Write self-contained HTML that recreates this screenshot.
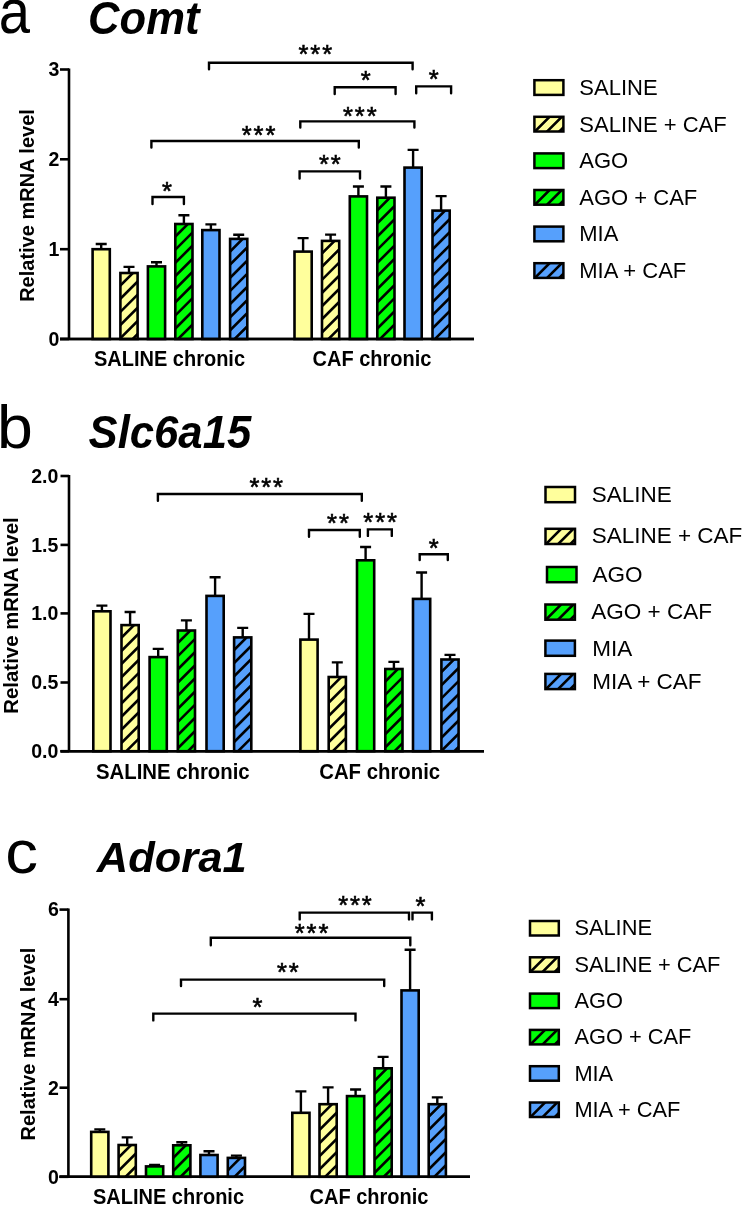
<!DOCTYPE html><html><head><meta charset="utf-8"><title>Figure</title><style>html,body{margin:0;padding:0;background:#fff;}body{width:742px;height:1205px;overflow:hidden;}svg{display:block;will-change:transform;font-family:"Liberation Sans", sans-serif;}</style></head><body><svg width="742" height="1205" viewBox="0 0 742 1205" font-family='"Liberation Sans", sans-serif' fill="#000"><defs><clipPath id="c1"><rect x="120.40" y="273.00" width="17.20" height="66.00"/></clipPath><clipPath id="c2"><rect x="175.30" y="224.00" width="17.20" height="115.00"/></clipPath><clipPath id="c3"><rect x="230.10" y="238.90" width="17.20" height="100.10"/></clipPath><clipPath id="c4"><rect x="322.00" y="240.90" width="17.20" height="98.10"/></clipPath><clipPath id="c5"><rect x="377.30" y="197.70" width="17.20" height="141.30"/></clipPath><clipPath id="c6"><rect x="432.50" y="210.60" width="17.20" height="128.40"/></clipPath><clipPath id="c7"><rect x="534.40" y="116.80" width="29.00" height="14.70"/></clipPath><clipPath id="c8"><rect x="534.40" y="190.00" width="29.00" height="14.70"/></clipPath><clipPath id="c9"><rect x="534.40" y="263.20" width="29.00" height="14.70"/></clipPath><clipPath id="c10"><rect x="121.50" y="625.10" width="17.20" height="126.10"/></clipPath><clipPath id="c11"><rect x="177.80" y="630.50" width="17.20" height="120.70"/></clipPath><clipPath id="c12"><rect x="234.10" y="637.40" width="17.20" height="113.80"/></clipPath><clipPath id="c13"><rect x="328.70" y="677.00" width="17.20" height="74.20"/></clipPath><clipPath id="c14"><rect x="385.30" y="669.00" width="17.20" height="82.20"/></clipPath><clipPath id="c15"><rect x="441.40" y="659.50" width="17.20" height="91.70"/></clipPath><clipPath id="c16"><rect x="545.50" y="528.80" width="29.50" height="15.20"/></clipPath><clipPath id="c17"><rect x="545.40" y="604.50" width="29.50" height="15.20"/></clipPath><clipPath id="c18"><rect x="545.40" y="673.90" width="29.50" height="15.20"/></clipPath><clipPath id="c19"><rect x="118.60" y="1145.00" width="17.20" height="31.80"/></clipPath><clipPath id="c20"><rect x="173.20" y="1145.30" width="17.20" height="31.50"/></clipPath><clipPath id="c21"><rect x="227.80" y="1157.90" width="17.20" height="18.90"/></clipPath><clipPath id="c22"><rect x="319.50" y="1104.20" width="17.20" height="72.60"/></clipPath><clipPath id="c23"><rect x="374.50" y="1068.30" width="17.20" height="108.50"/></clipPath><clipPath id="c24"><rect x="428.70" y="1104.20" width="17.20" height="72.60"/></clipPath><clipPath id="c25"><rect x="530.00" y="957.30" width="28.80" height="14.50"/></clipPath><clipPath id="c26"><rect x="530.00" y="1029.90" width="28.80" height="14.50"/></clipPath><clipPath id="c27"><rect x="530.00" y="1102.50" width="28.80" height="14.50"/></clipPath></defs><rect width="742" height="1205" fill="#fff"/><path d="M69.00 68.50V339.00" stroke="#000" stroke-width="2.6" fill="none"/><path d="M60.00 339.00H474.00" stroke="#000" stroke-width="2.6" fill="none"/><path d="M60.00 69.50H69.00" stroke="#000" stroke-width="2.6" fill="none"/><text transform="translate(59.30,76.30) scale(0.94,1)" font-size="20.8" font-weight="bold" text-anchor="end">3</text><path d="M60.00 159.30H69.00" stroke="#000" stroke-width="2.6" fill="none"/><text transform="translate(59.30,166.10) scale(0.94,1)" font-size="20.8" font-weight="bold" text-anchor="end">2</text><path d="M60.00 249.20H69.00" stroke="#000" stroke-width="2.6" fill="none"/><text transform="translate(59.30,256.00) scale(0.94,1)" font-size="20.8" font-weight="bold" text-anchor="end">1</text><path d="M60.00 339.00H69.00" stroke="#000" stroke-width="2.6" fill="none"/><text transform="translate(59.30,345.80) scale(0.94,1)" font-size="20.8" font-weight="bold" text-anchor="end">0</text><text transform="translate(34.38,205.50) rotate(-90)" font-size="20" font-weight="bold" text-anchor="middle">Relative mRNA level</text><path d="M101.20 248.90V244.00M95.70 244.00H106.70" stroke="#000" stroke-width="2.4" fill="none"/><path d="M129.00 272.70V266.90M123.50 266.90H134.50" stroke="#000" stroke-width="2.4" fill="none"/><path d="M156.50 266.10V262.30M151.00 262.30H162.00" stroke="#000" stroke-width="2.4" fill="none"/><path d="M183.90 223.70V215.30M178.40 215.30H189.40" stroke="#000" stroke-width="2.4" fill="none"/><path d="M210.90 229.80V224.40M205.40 224.40H216.40" stroke="#000" stroke-width="2.4" fill="none"/><path d="M238.70 238.60V234.80M233.20 234.80H244.20" stroke="#000" stroke-width="2.4" fill="none"/><path d="M303.10 251.30V238.10M297.60 238.10H308.60" stroke="#000" stroke-width="2.4" fill="none"/><path d="M330.60 240.60V234.60M325.10 234.60H336.10" stroke="#000" stroke-width="2.4" fill="none"/><path d="M358.40 196.10V186.50M352.90 186.50H363.90" stroke="#000" stroke-width="2.4" fill="none"/><path d="M385.90 197.40V186.50M380.40 186.50H391.40" stroke="#000" stroke-width="2.4" fill="none"/><path d="M413.10 167.30V149.90M407.60 149.90H418.60" stroke="#000" stroke-width="2.4" fill="none"/><path d="M441.10 210.30V196.10M435.60 196.10H446.60" stroke="#000" stroke-width="2.4" fill="none"/><rect x="92.60" y="249.20" width="17.20" height="89.80" fill="#FFFF9C"/><rect x="92.60" y="249.20" width="17.20" height="89.80" fill="none" stroke="#000" stroke-width="2.6"/><rect x="120.40" y="273.00" width="17.20" height="66.00" fill="#FFFF9C"/><path clip-path="url(#c1)" d="M117.40 275.40L140.60 252.20M117.40 288.55L140.60 265.35M117.40 301.70L140.60 278.50M117.40 314.85L140.60 291.65M117.40 328.00L140.60 304.80M117.40 341.15L140.60 317.95M117.40 354.30L140.60 331.10M117.40 367.45L140.60 344.25" stroke="#000" stroke-width="2.6" fill="none"/><rect x="120.40" y="273.00" width="17.20" height="66.00" fill="none" stroke="#000" stroke-width="2.6"/><rect x="147.90" y="266.40" width="17.20" height="72.60" fill="#00FF06"/><rect x="147.90" y="266.40" width="17.20" height="72.60" fill="none" stroke="#000" stroke-width="2.6"/><rect x="175.30" y="224.00" width="17.20" height="115.00" fill="#00FF06"/><path clip-path="url(#c2)" d="M172.30 226.40L195.50 203.20M172.30 239.55L195.50 216.35M172.30 252.70L195.50 229.50M172.30 265.85L195.50 242.65M172.30 279.00L195.50 255.80M172.30 292.15L195.50 268.95M172.30 305.30L195.50 282.10M172.30 318.45L195.50 295.25M172.30 331.60L195.50 308.40M172.30 344.75L195.50 321.55M172.30 357.90L195.50 334.70M172.30 371.05L195.50 347.85" stroke="#000" stroke-width="2.6" fill="none"/><rect x="175.30" y="224.00" width="17.20" height="115.00" fill="none" stroke="#000" stroke-width="2.6"/><rect x="202.30" y="230.10" width="17.20" height="108.90" fill="#56A0FC"/><rect x="202.30" y="230.10" width="17.20" height="108.90" fill="none" stroke="#000" stroke-width="2.6"/><rect x="230.10" y="238.90" width="17.20" height="100.10" fill="#56A0FC"/><path clip-path="url(#c3)" d="M227.10 241.30L250.30 218.10M227.10 254.45L250.30 231.25M227.10 267.60L250.30 244.40M227.10 280.75L250.30 257.55M227.10 293.90L250.30 270.70M227.10 307.05L250.30 283.85M227.10 320.20L250.30 297.00M227.10 333.35L250.30 310.15M227.10 346.50L250.30 323.30M227.10 359.65L250.30 336.45" stroke="#000" stroke-width="2.6" fill="none"/><rect x="230.10" y="238.90" width="17.20" height="100.10" fill="none" stroke="#000" stroke-width="2.6"/><rect x="294.50" y="251.60" width="17.20" height="87.40" fill="#FFFF9C"/><rect x="294.50" y="251.60" width="17.20" height="87.40" fill="none" stroke="#000" stroke-width="2.6"/><rect x="322.00" y="240.90" width="17.20" height="98.10" fill="#FFFF9C"/><path clip-path="url(#c4)" d="M319.00 243.30L342.20 220.10M319.00 256.45L342.20 233.25M319.00 269.60L342.20 246.40M319.00 282.75L342.20 259.55M319.00 295.90L342.20 272.70M319.00 309.05L342.20 285.85M319.00 322.20L342.20 299.00M319.00 335.35L342.20 312.15M319.00 348.50L342.20 325.30M319.00 361.65L342.20 338.45" stroke="#000" stroke-width="2.6" fill="none"/><rect x="322.00" y="240.90" width="17.20" height="98.10" fill="none" stroke="#000" stroke-width="2.6"/><rect x="349.80" y="196.40" width="17.20" height="142.60" fill="#00FF06"/><rect x="349.80" y="196.40" width="17.20" height="142.60" fill="none" stroke="#000" stroke-width="2.6"/><rect x="377.30" y="197.70" width="17.20" height="141.30" fill="#00FF06"/><path clip-path="url(#c5)" d="M374.30 200.10L397.50 176.90M374.30 213.25L397.50 190.05M374.30 226.40L397.50 203.20M374.30 239.55L397.50 216.35M374.30 252.70L397.50 229.50M374.30 265.85L397.50 242.65M374.30 279.00L397.50 255.80M374.30 292.15L397.50 268.95M374.30 305.30L397.50 282.10M374.30 318.45L397.50 295.25M374.30 331.60L397.50 308.40M374.30 344.75L397.50 321.55M374.30 357.90L397.50 334.70M374.30 371.05L397.50 347.85" stroke="#000" stroke-width="2.6" fill="none"/><rect x="377.30" y="197.70" width="17.20" height="141.30" fill="none" stroke="#000" stroke-width="2.6"/><rect x="404.50" y="167.60" width="17.20" height="171.40" fill="#56A0FC"/><rect x="404.50" y="167.60" width="17.20" height="171.40" fill="none" stroke="#000" stroke-width="2.6"/><rect x="432.50" y="210.60" width="17.20" height="128.40" fill="#56A0FC"/><path clip-path="url(#c6)" d="M429.50 213.00L452.70 189.80M429.50 226.15L452.70 202.95M429.50 239.30L452.70 216.10M429.50 252.45L452.70 229.25M429.50 265.60L452.70 242.40M429.50 278.75L452.70 255.55M429.50 291.90L452.70 268.70M429.50 305.05L452.70 281.85M429.50 318.20L452.70 295.00M429.50 331.35L452.70 308.15M429.50 344.50L452.70 321.30M429.50 357.65L452.70 334.45M429.50 370.80L452.70 347.60" stroke="#000" stroke-width="2.6" fill="none"/><rect x="432.50" y="210.60" width="17.20" height="128.40" fill="none" stroke="#000" stroke-width="2.6"/><path d="M60.00 339.00H474.00" stroke="#000" stroke-width="2.6" fill="none"/><text transform="translate(169.50,366.00) scale(1,1.07)" font-size="20" font-weight="bold" text-anchor="middle">SALINE chronic</text><text transform="translate(372.00,366.00) scale(1,1.07)" font-size="20" font-weight="bold" text-anchor="middle">CAF chronic</text><path d="M209.00 69.20V62.80H412.60V69.20" stroke="#000" stroke-width="2.4" fill="none" stroke-linejoin="miter" stroke-linecap="round"/><text x="316.30" y="63.37" font-size="25.5" text-anchor="middle" letter-spacing="1.9" stroke="#000" stroke-width="0.6">***</text><path d="M334.70 94.00V87.30H395.60V94.00" stroke="#000" stroke-width="2.4" fill="none" stroke-linejoin="miter" stroke-linecap="round"/><text x="365.60" y="89.37" font-size="25.5" text-anchor="middle" letter-spacing="0" stroke="#000" stroke-width="0.6">*</text><path d="M416.20 93.30V86.40H451.10V93.30" stroke="#000" stroke-width="2.4" fill="none" stroke-linejoin="miter" stroke-linecap="round"/><text x="433.65" y="87.82" font-size="25.5" text-anchor="middle" letter-spacing="0" stroke="#000" stroke-width="0.6">*</text><path d="M300.30 127.50V121.40H414.40V127.50" stroke="#000" stroke-width="2.4" fill="none" stroke-linejoin="miter" stroke-linecap="round"/><text x="360.80" y="124.82" font-size="25.5" text-anchor="middle" letter-spacing="1.9" stroke="#000" stroke-width="0.6">***</text><path d="M151.40 147.50V141.00H358.80V147.50" stroke="#000" stroke-width="2.4" fill="none" stroke-linejoin="miter" stroke-linecap="round"/><text x="259.50" y="144.07" font-size="25.5" text-anchor="middle" letter-spacing="1.9" stroke="#000" stroke-width="0.6">***</text><path d="M299.60 178.50V171.40H360.00V178.50" stroke="#000" stroke-width="2.4" fill="none" stroke-linejoin="miter" stroke-linecap="round"/><text x="330.85" y="173.47" font-size="25.5" text-anchor="middle" letter-spacing="1.9" stroke="#000" stroke-width="0.6">**</text><path d="M152.50 204.10V197.00H183.90V204.10" stroke="#000" stroke-width="2.4" fill="none" stroke-linejoin="miter" stroke-linecap="round"/><text x="166.95" y="199.67" font-size="25.5" text-anchor="middle" letter-spacing="0" stroke="#000" stroke-width="0.6">*</text><text transform="translate(-1.24,32.88) scale(0.9366,1.0351)" font-size="60">a</text><text transform="translate(88.04,33.87) scale(1.0027,1.0537)" font-size="43.5" font-weight="bold" font-style="italic">Comt</text><rect x="534.40" y="80.20" width="29.00" height="14.70" fill="#FFFF9C"/><rect x="534.40" y="80.20" width="29.00" height="14.70" fill="none" stroke="#000" stroke-width="2.5"/><text x="579.30" y="95.20" font-size="22">SALINE</text><rect x="534.40" y="116.80" width="29.00" height="14.70" fill="#FFFF9C"/><path clip-path="url(#c7)" d="M531.40 135.00L566.40 100.00M531.40 147.20L566.40 112.20M531.40 159.40L566.40 124.40" stroke="#000" stroke-width="2.6" fill="none"/><rect x="534.40" y="116.80" width="29.00" height="14.70" fill="none" stroke="#000" stroke-width="2.5"/><text x="579.30" y="131.70" font-size="22">SALINE + CAF</text><rect x="534.40" y="153.40" width="29.00" height="14.70" fill="#00FF06"/><rect x="534.40" y="153.40" width="29.00" height="14.70" fill="none" stroke="#000" stroke-width="2.5"/><text x="579.30" y="168.20" font-size="22">AGO</text><rect x="534.40" y="190.00" width="29.00" height="14.70" fill="#00FF06"/><path clip-path="url(#c8)" d="M531.40 208.20L566.40 173.20M531.40 220.40L566.40 185.40M531.40 232.60L566.40 197.60" stroke="#000" stroke-width="2.6" fill="none"/><rect x="534.40" y="190.00" width="29.00" height="14.70" fill="none" stroke="#000" stroke-width="2.5"/><text x="579.30" y="204.70" font-size="22">AGO + CAF</text><rect x="534.40" y="226.60" width="29.00" height="14.70" fill="#56A0FC"/><rect x="534.40" y="226.60" width="29.00" height="14.70" fill="none" stroke="#000" stroke-width="2.5"/><text x="579.30" y="241.20" font-size="22">MIA</text><rect x="534.40" y="263.20" width="29.00" height="14.70" fill="#56A0FC"/><path clip-path="url(#c9)" d="M531.40 281.40L566.40 246.40M531.40 293.60L566.40 258.60M531.40 305.80L566.40 270.80" stroke="#000" stroke-width="2.6" fill="none"/><rect x="534.40" y="263.20" width="29.00" height="14.70" fill="none" stroke="#000" stroke-width="2.5"/><text x="579.30" y="277.70" font-size="22">MIA + CAF</text><path d="M69.00 475.00V751.20" stroke="#000" stroke-width="2.6" fill="none"/><path d="M60.50 751.20H484.00" stroke="#000" stroke-width="2.6" fill="none"/><path d="M60.50 476.00H69.00" stroke="#000" stroke-width="2.6" fill="none"/><text transform="translate(58.30,482.80) scale(0.94,1)" font-size="20.8" font-weight="bold" text-anchor="end">2.0</text><path d="M60.50 544.90H69.00" stroke="#000" stroke-width="2.6" fill="none"/><text transform="translate(58.30,551.70) scale(0.94,1)" font-size="20.8" font-weight="bold" text-anchor="end">1.5</text><path d="M60.50 613.40H69.00" stroke="#000" stroke-width="2.6" fill="none"/><text transform="translate(58.30,620.20) scale(0.94,1)" font-size="20.8" font-weight="bold" text-anchor="end">1.0</text><path d="M60.50 682.50H69.00" stroke="#000" stroke-width="2.6" fill="none"/><text transform="translate(58.30,689.30) scale(0.94,1)" font-size="20.8" font-weight="bold" text-anchor="end">0.5</text><path d="M60.50 751.20H69.00" stroke="#000" stroke-width="2.6" fill="none"/><text transform="translate(58.30,758.00) scale(0.94,1)" font-size="20.8" font-weight="bold" text-anchor="end">0.0</text><text transform="translate(18.32,615.50) rotate(-90)" font-size="20.4" font-weight="bold" text-anchor="middle">Relative mRNA level</text><path d="M101.90 611.00V605.60M96.40 605.60H107.40" stroke="#000" stroke-width="2.4" fill="none"/><path d="M130.10 624.80V612.00M124.60 612.00H135.60" stroke="#000" stroke-width="2.4" fill="none"/><path d="M158.20 656.80V648.90M152.70 648.90H163.70" stroke="#000" stroke-width="2.4" fill="none"/><path d="M186.40 630.20V620.40M180.90 620.40H191.90" stroke="#000" stroke-width="2.4" fill="none"/><path d="M215.10 595.60V577.20M209.60 577.20H220.60" stroke="#000" stroke-width="2.4" fill="none"/><path d="M242.70 637.10V627.90M237.20 627.90H248.20" stroke="#000" stroke-width="2.4" fill="none"/><path d="M309.00 639.30V613.90M303.50 613.90H314.50" stroke="#000" stroke-width="2.4" fill="none"/><path d="M337.30 676.70V662.40M331.80 662.40H342.80" stroke="#000" stroke-width="2.4" fill="none"/><path d="M365.60 560.00V547.00M360.10 547.00H371.10" stroke="#000" stroke-width="2.4" fill="none"/><path d="M393.90 668.70V661.90M388.40 661.90H399.40" stroke="#000" stroke-width="2.4" fill="none"/><path d="M421.60 598.60V572.50M416.10 572.50H427.10" stroke="#000" stroke-width="2.4" fill="none"/><path d="M450.00 659.20V654.90M444.50 654.90H455.50" stroke="#000" stroke-width="2.4" fill="none"/><rect x="93.30" y="611.30" width="17.20" height="139.90" fill="#FFFF9C"/><rect x="93.30" y="611.30" width="17.20" height="139.90" fill="none" stroke="#000" stroke-width="2.6"/><rect x="121.50" y="625.10" width="17.20" height="126.10" fill="#FFFF9C"/><path clip-path="url(#c10)" d="M118.50 627.50L141.70 604.30M118.50 640.65L141.70 617.45M118.50 653.80L141.70 630.60M118.50 666.95L141.70 643.75M118.50 680.10L141.70 656.90M118.50 693.25L141.70 670.05M118.50 706.40L141.70 683.20M118.50 719.55L141.70 696.35M118.50 732.70L141.70 709.50M118.50 745.85L141.70 722.65M118.50 759.00L141.70 735.80M118.50 772.15L141.70 748.95" stroke="#000" stroke-width="2.6" fill="none"/><rect x="121.50" y="625.10" width="17.20" height="126.10" fill="none" stroke="#000" stroke-width="2.6"/><rect x="149.60" y="657.10" width="17.20" height="94.10" fill="#00FF06"/><rect x="149.60" y="657.10" width="17.20" height="94.10" fill="none" stroke="#000" stroke-width="2.6"/><rect x="177.80" y="630.50" width="17.20" height="120.70" fill="#00FF06"/><path clip-path="url(#c11)" d="M174.80 632.90L198.00 609.70M174.80 646.05L198.00 622.85M174.80 659.20L198.00 636.00M174.80 672.35L198.00 649.15M174.80 685.50L198.00 662.30M174.80 698.65L198.00 675.45M174.80 711.80L198.00 688.60M174.80 724.95L198.00 701.75M174.80 738.10L198.00 714.90M174.80 751.25L198.00 728.05M174.80 764.40L198.00 741.20M174.80 777.55L198.00 754.35" stroke="#000" stroke-width="2.6" fill="none"/><rect x="177.80" y="630.50" width="17.20" height="120.70" fill="none" stroke="#000" stroke-width="2.6"/><rect x="206.50" y="595.90" width="17.20" height="155.30" fill="#56A0FC"/><rect x="206.50" y="595.90" width="17.20" height="155.30" fill="none" stroke="#000" stroke-width="2.6"/><rect x="234.10" y="637.40" width="17.20" height="113.80" fill="#56A0FC"/><path clip-path="url(#c12)" d="M231.10 639.80L254.30 616.60M231.10 652.95L254.30 629.75M231.10 666.10L254.30 642.90M231.10 679.25L254.30 656.05M231.10 692.40L254.30 669.20M231.10 705.55L254.30 682.35M231.10 718.70L254.30 695.50M231.10 731.85L254.30 708.65M231.10 745.00L254.30 721.80M231.10 758.15L254.30 734.95M231.10 771.30L254.30 748.10M231.10 784.45L254.30 761.25" stroke="#000" stroke-width="2.6" fill="none"/><rect x="234.10" y="637.40" width="17.20" height="113.80" fill="none" stroke="#000" stroke-width="2.6"/><rect x="300.40" y="639.60" width="17.20" height="111.60" fill="#FFFF9C"/><rect x="300.40" y="639.60" width="17.20" height="111.60" fill="none" stroke="#000" stroke-width="2.6"/><rect x="328.70" y="677.00" width="17.20" height="74.20" fill="#FFFF9C"/><path clip-path="url(#c13)" d="M325.70 679.40L348.90 656.20M325.70 692.55L348.90 669.35M325.70 705.70L348.90 682.50M325.70 718.85L348.90 695.65M325.70 732.00L348.90 708.80M325.70 745.15L348.90 721.95M325.70 758.30L348.90 735.10M325.70 771.45L348.90 748.25" stroke="#000" stroke-width="2.6" fill="none"/><rect x="328.70" y="677.00" width="17.20" height="74.20" fill="none" stroke="#000" stroke-width="2.6"/><rect x="357.00" y="560.30" width="17.20" height="190.90" fill="#00FF06"/><rect x="357.00" y="560.30" width="17.20" height="190.90" fill="none" stroke="#000" stroke-width="2.6"/><rect x="385.30" y="669.00" width="17.20" height="82.20" fill="#00FF06"/><path clip-path="url(#c14)" d="M382.30 671.40L405.50 648.20M382.30 684.55L405.50 661.35M382.30 697.70L405.50 674.50M382.30 710.85L405.50 687.65M382.30 724.00L405.50 700.80M382.30 737.15L405.50 713.95M382.30 750.30L405.50 727.10M382.30 763.45L405.50 740.25M382.30 776.60L405.50 753.40" stroke="#000" stroke-width="2.6" fill="none"/><rect x="385.30" y="669.00" width="17.20" height="82.20" fill="none" stroke="#000" stroke-width="2.6"/><rect x="413.00" y="598.90" width="17.20" height="152.30" fill="#56A0FC"/><rect x="413.00" y="598.90" width="17.20" height="152.30" fill="none" stroke="#000" stroke-width="2.6"/><rect x="441.40" y="659.50" width="17.20" height="91.70" fill="#56A0FC"/><path clip-path="url(#c15)" d="M438.40 661.90L461.60 638.70M438.40 675.05L461.60 651.85M438.40 688.20L461.60 665.00M438.40 701.35L461.60 678.15M438.40 714.50L461.60 691.30M438.40 727.65L461.60 704.45M438.40 740.80L461.60 717.60M438.40 753.95L461.60 730.75M438.40 767.10L461.60 743.90M438.40 780.25L461.60 757.05" stroke="#000" stroke-width="2.6" fill="none"/><rect x="441.40" y="659.50" width="17.20" height="91.70" fill="none" stroke="#000" stroke-width="2.6"/><path d="M60.50 751.20H484.00" stroke="#000" stroke-width="2.6" fill="none"/><text transform="translate(172.80,779.00) scale(1,1.07)" font-size="20.35" font-weight="bold" text-anchor="middle">SALINE chronic</text><text transform="translate(379.70,779.00) scale(1,1.07)" font-size="20.35" font-weight="bold" text-anchor="middle">CAF chronic</text><path d="M157.90 500.80V494.00H361.80V500.80" stroke="#000" stroke-width="2.4" fill="none" stroke-linejoin="miter" stroke-linecap="round"/><text x="267.20" y="496.12" font-size="25.5" text-anchor="middle" letter-spacing="1.9" stroke="#000" stroke-width="0.6">***</text><path d="M309.00 536.80V530.00H359.80V536.80" stroke="#000" stroke-width="2.4" fill="none" stroke-linejoin="miter" stroke-linecap="round"/><text x="338.95" y="532.12" font-size="25.5" text-anchor="middle" letter-spacing="1.9" stroke="#000" stroke-width="0.6">**</text><path d="M367.90 535.90V529.40H391.80V535.90" stroke="#000" stroke-width="2.4" fill="none" stroke-linejoin="miter" stroke-linecap="round"/><text x="381.10" y="530.62" font-size="25.5" text-anchor="middle" letter-spacing="1.9" stroke="#000" stroke-width="0.6">***</text><path d="M419.70 560.00V554.30H447.80V560.00" stroke="#000" stroke-width="2.4" fill="none" stroke-linejoin="miter" stroke-linecap="round"/><text x="433.75" y="556.92" font-size="25.5" text-anchor="middle" letter-spacing="0" stroke="#000" stroke-width="0.6">*</text><text transform="translate(-2.89,447.89) scale(1.0729,1.0136)" font-size="60">b</text><text transform="translate(88.60,448.18) scale(1.0037,1.0500)" font-size="43.5" font-weight="bold" font-style="italic">Slc6a15</text><rect x="545.50" y="487.00" width="29.50" height="15.20" fill="#FFFF9C"/><rect x="545.50" y="487.00" width="29.50" height="15.20" fill="none" stroke="#000" stroke-width="2.5"/><text x="591.70" y="502.00" font-size="22.5">SALINE</text><rect x="545.50" y="528.80" width="29.50" height="15.20" fill="#FFFF9C"/><path clip-path="url(#c16)" d="M542.50 547.50L578.00 512.00M542.50 559.70L578.00 524.20M542.50 571.90L578.00 536.40" stroke="#000" stroke-width="2.6" fill="none"/><rect x="545.50" y="528.80" width="29.50" height="15.20" fill="none" stroke="#000" stroke-width="2.5"/><text x="591.70" y="543.00" font-size="22.5">SALINE + CAF</text><rect x="547.00" y="567.00" width="29.50" height="15.20" fill="#00FF06"/><rect x="547.00" y="567.00" width="29.50" height="15.20" fill="none" stroke="#000" stroke-width="2.5"/><text x="592.60" y="582.10" font-size="22.5">AGO</text><rect x="545.40" y="604.50" width="29.50" height="15.20" fill="#00FF06"/><path clip-path="url(#c17)" d="M542.40 623.20L577.90 587.70M542.40 635.40L577.90 599.90M542.40 647.60L577.90 612.10" stroke="#000" stroke-width="2.6" fill="none"/><rect x="545.40" y="604.50" width="29.50" height="15.20" fill="none" stroke="#000" stroke-width="2.5"/><text x="591.30" y="619.40" font-size="22.5">AGO + CAF</text><rect x="545.40" y="640.60" width="29.50" height="15.20" fill="#56A0FC"/><rect x="545.40" y="640.60" width="29.50" height="15.20" fill="none" stroke="#000" stroke-width="2.5"/><text x="592.20" y="655.80" font-size="22.5">MIA</text><rect x="545.40" y="673.90" width="29.50" height="15.20" fill="#56A0FC"/><path clip-path="url(#c18)" d="M542.40 692.60L577.90 657.10M542.40 704.80L577.90 669.30M542.40 717.00L577.90 681.50" stroke="#000" stroke-width="2.6" fill="none"/><rect x="545.40" y="673.90" width="29.50" height="15.20" fill="none" stroke="#000" stroke-width="2.5"/><text x="592.20" y="689.00" font-size="22.5">MIA + CAF</text><path d="M68.40 908.60V1176.80" stroke="#000" stroke-width="2.6" fill="none"/><path d="M59.50 1176.80H470.00" stroke="#000" stroke-width="2.6" fill="none"/><path d="M59.50 909.60H68.40" stroke="#000" stroke-width="2.6" fill="none"/><text transform="translate(58.80,916.40) scale(0.94,1)" font-size="20.8" font-weight="bold" text-anchor="end">6</text><path d="M59.50 999.20H68.40" stroke="#000" stroke-width="2.6" fill="none"/><text transform="translate(58.80,1006.00) scale(0.94,1)" font-size="20.8" font-weight="bold" text-anchor="end">4</text><path d="M59.50 1087.70H68.40" stroke="#000" stroke-width="2.6" fill="none"/><text transform="translate(58.80,1094.50) scale(0.94,1)" font-size="20.8" font-weight="bold" text-anchor="end">2</text><path d="M59.50 1176.80H68.40" stroke="#000" stroke-width="2.6" fill="none"/><text transform="translate(58.80,1183.60) scale(0.94,1)" font-size="20.8" font-weight="bold" text-anchor="end">0</text><text transform="translate(34.98,1044.10) rotate(-90)" font-size="20" font-weight="bold" text-anchor="middle">Relative mRNA level</text><path d="M99.80 1131.60V1129.40M94.30 1129.40H105.30" stroke="#000" stroke-width="2.4" fill="none"/><path d="M127.20 1144.70V1137.40M121.70 1137.40H132.70" stroke="#000" stroke-width="2.4" fill="none"/><path d="M154.60 1166.10V1165.00M149.10 1165.00H160.10" stroke="#000" stroke-width="2.4" fill="none"/><path d="M181.80 1145.00V1142.30M176.30 1142.30H187.30" stroke="#000" stroke-width="2.4" fill="none"/><path d="M209.00 1154.70V1151.20M203.50 1151.20H214.50" stroke="#000" stroke-width="2.4" fill="none"/><path d="M236.40 1157.60V1155.60M230.90 1155.60H241.90" stroke="#000" stroke-width="2.4" fill="none"/><path d="M300.90 1112.50V1091.40M295.40 1091.40H306.40" stroke="#000" stroke-width="2.4" fill="none"/><path d="M328.10 1103.90V1087.40M322.60 1087.40H333.60" stroke="#000" stroke-width="2.4" fill="none"/><path d="M355.60 1095.80V1089.50M350.10 1089.50H361.10" stroke="#000" stroke-width="2.4" fill="none"/><path d="M383.10 1068.00V1056.90M377.60 1056.90H388.60" stroke="#000" stroke-width="2.4" fill="none"/><path d="M410.10 990.10V949.70M404.60 949.70H415.60" stroke="#000" stroke-width="2.4" fill="none"/><path d="M437.30 1103.90V1097.40M431.80 1097.40H442.80" stroke="#000" stroke-width="2.4" fill="none"/><rect x="91.20" y="1131.90" width="17.20" height="44.90" fill="#FFFF9C"/><rect x="91.20" y="1131.90" width="17.20" height="44.90" fill="none" stroke="#000" stroke-width="2.6"/><rect x="118.60" y="1145.00" width="17.20" height="31.80" fill="#FFFF9C"/><path clip-path="url(#c19)" d="M115.60 1147.40L138.80 1124.20M115.60 1160.55L138.80 1137.35M115.60 1173.70L138.80 1150.50M115.60 1186.85L138.80 1163.65M115.60 1200.00L138.80 1176.80" stroke="#000" stroke-width="2.6" fill="none"/><rect x="118.60" y="1145.00" width="17.20" height="31.80" fill="none" stroke="#000" stroke-width="2.6"/><rect x="146.00" y="1166.40" width="17.20" height="10.40" fill="#00FF06"/><rect x="146.00" y="1166.40" width="17.20" height="10.40" fill="none" stroke="#000" stroke-width="2.6"/><rect x="173.20" y="1145.30" width="17.20" height="31.50" fill="#00FF06"/><path clip-path="url(#c20)" d="M170.20 1147.70L193.40 1124.50M170.20 1160.85L193.40 1137.65M170.20 1174.00L193.40 1150.80M170.20 1187.15L193.40 1163.95M170.20 1200.30L193.40 1177.10" stroke="#000" stroke-width="2.6" fill="none"/><rect x="173.20" y="1145.30" width="17.20" height="31.50" fill="none" stroke="#000" stroke-width="2.6"/><rect x="200.40" y="1155.00" width="17.20" height="21.80" fill="#56A0FC"/><rect x="200.40" y="1155.00" width="17.20" height="21.80" fill="none" stroke="#000" stroke-width="2.6"/><rect x="227.80" y="1157.90" width="17.20" height="18.90" fill="#56A0FC"/><path clip-path="url(#c21)" d="M224.80 1160.30L248.00 1137.10M224.80 1173.45L248.00 1150.25M224.80 1186.60L248.00 1163.40M224.80 1199.75L248.00 1176.55" stroke="#000" stroke-width="2.6" fill="none"/><rect x="227.80" y="1157.90" width="17.20" height="18.90" fill="none" stroke="#000" stroke-width="2.6"/><rect x="292.30" y="1112.80" width="17.20" height="64.00" fill="#FFFF9C"/><rect x="292.30" y="1112.80" width="17.20" height="64.00" fill="none" stroke="#000" stroke-width="2.6"/><rect x="319.50" y="1104.20" width="17.20" height="72.60" fill="#FFFF9C"/><path clip-path="url(#c22)" d="M316.50 1106.60L339.70 1083.40M316.50 1119.75L339.70 1096.55M316.50 1132.90L339.70 1109.70M316.50 1146.05L339.70 1122.85M316.50 1159.20L339.70 1136.00M316.50 1172.35L339.70 1149.15M316.50 1185.50L339.70 1162.30M316.50 1198.65L339.70 1175.45" stroke="#000" stroke-width="2.6" fill="none"/><rect x="319.50" y="1104.20" width="17.20" height="72.60" fill="none" stroke="#000" stroke-width="2.6"/><rect x="347.00" y="1096.10" width="17.20" height="80.70" fill="#00FF06"/><rect x="347.00" y="1096.10" width="17.20" height="80.70" fill="none" stroke="#000" stroke-width="2.6"/><rect x="374.50" y="1068.30" width="17.20" height="108.50" fill="#00FF06"/><path clip-path="url(#c23)" d="M371.50 1070.70L394.70 1047.50M371.50 1083.85L394.70 1060.65M371.50 1097.00L394.70 1073.80M371.50 1110.15L394.70 1086.95M371.50 1123.30L394.70 1100.10M371.50 1136.45L394.70 1113.25M371.50 1149.60L394.70 1126.40M371.50 1162.75L394.70 1139.55M371.50 1175.90L394.70 1152.70M371.50 1189.05L394.70 1165.85M371.50 1202.20L394.70 1179.00" stroke="#000" stroke-width="2.6" fill="none"/><rect x="374.50" y="1068.30" width="17.20" height="108.50" fill="none" stroke="#000" stroke-width="2.6"/><rect x="401.50" y="990.40" width="17.20" height="186.40" fill="#56A0FC"/><rect x="401.50" y="990.40" width="17.20" height="186.40" fill="none" stroke="#000" stroke-width="2.6"/><rect x="428.70" y="1104.20" width="17.20" height="72.60" fill="#56A0FC"/><path clip-path="url(#c24)" d="M425.70 1106.60L448.90 1083.40M425.70 1119.75L448.90 1096.55M425.70 1132.90L448.90 1109.70M425.70 1146.05L448.90 1122.85M425.70 1159.20L448.90 1136.00M425.70 1172.35L448.90 1149.15M425.70 1185.50L448.90 1162.30M425.70 1198.65L448.90 1175.45" stroke="#000" stroke-width="2.6" fill="none"/><rect x="428.70" y="1104.20" width="17.20" height="72.60" fill="none" stroke="#000" stroke-width="2.6"/><path d="M59.50 1176.80H470.00" stroke="#000" stroke-width="2.6" fill="none"/><text transform="translate(168.50,1203.50) scale(1,1.07)" font-size="20" font-weight="bold" text-anchor="middle">SALINE chronic</text><text transform="translate(369.00,1203.50) scale(1,1.07)" font-size="20" font-weight="bold" text-anchor="middle">CAF chronic</text><path d="M299.70 919.40V912.60H409.00V919.40" stroke="#000" stroke-width="2.4" fill="none" stroke-linejoin="miter" stroke-linecap="round"/><text x="355.95" y="913.57" font-size="25.5" text-anchor="middle" letter-spacing="1.9" stroke="#000" stroke-width="0.6">***</text><path d="M412.50 919.40V912.60H431.90V919.40" stroke="#000" stroke-width="2.4" fill="none" stroke-linejoin="miter" stroke-linecap="round"/><text x="420.45" y="914.77" font-size="25.5" text-anchor="middle" letter-spacing="0" stroke="#000" stroke-width="0.6">*</text><path d="M210.80 945.20V937.70H410.30V945.20" stroke="#000" stroke-width="2.4" fill="none" stroke-linejoin="miter" stroke-linecap="round"/><text x="312.50" y="942.27" font-size="25.5" text-anchor="middle" letter-spacing="1.9" stroke="#000" stroke-width="0.6">***</text><path d="M181.00 986.10V979.60H384.20V986.10" stroke="#000" stroke-width="2.4" fill="none" stroke-linejoin="miter" stroke-linecap="round"/><text x="288.85" y="981.27" font-size="25.5" text-anchor="middle" letter-spacing="1.9" stroke="#000" stroke-width="0.6">**</text><path d="M153.30 1020.40V1013.60H355.50V1020.40" stroke="#000" stroke-width="2.4" fill="none" stroke-linejoin="miter" stroke-linecap="round"/><text x="257.35" y="1016.27" font-size="25.5" text-anchor="middle" letter-spacing="0" stroke="#000" stroke-width="0.6">*</text><text transform="translate(5.17,873.49) scale(1.0913,1.0229)" font-size="60">c</text><text transform="translate(96.85,872.20) scale(0.9997,0.9938)" font-size="43.5" font-weight="bold" font-style="italic">Adora1</text><rect x="530.00" y="921.00" width="28.80" height="14.50" fill="#FFFF9C"/><rect x="530.00" y="921.00" width="28.80" height="14.50" fill="none" stroke="#000" stroke-width="2.5"/><text x="574.40" y="935.30" font-size="21.8">SALINE</text><rect x="530.00" y="957.30" width="28.80" height="14.50" fill="#FFFF9C"/><path clip-path="url(#c25)" d="M527.00 975.30L561.80 940.50M527.00 987.50L561.80 952.70M527.00 999.70L561.80 964.90" stroke="#000" stroke-width="2.6" fill="none"/><rect x="530.00" y="957.30" width="28.80" height="14.50" fill="none" stroke="#000" stroke-width="2.5"/><text x="574.40" y="971.65" font-size="21.8">SALINE + CAF</text><rect x="530.00" y="993.60" width="28.80" height="14.50" fill="#00FF06"/><rect x="530.00" y="993.60" width="28.80" height="14.50" fill="none" stroke="#000" stroke-width="2.5"/><text x="574.40" y="1008.00" font-size="21.8">AGO</text><rect x="530.00" y="1029.90" width="28.80" height="14.50" fill="#00FF06"/><path clip-path="url(#c26)" d="M527.00 1047.90L561.80 1013.10M527.00 1060.10L561.80 1025.30M527.00 1072.30L561.80 1037.50" stroke="#000" stroke-width="2.6" fill="none"/><rect x="530.00" y="1029.90" width="28.80" height="14.50" fill="none" stroke="#000" stroke-width="2.5"/><text x="574.40" y="1044.35" font-size="21.8">AGO + CAF</text><rect x="530.00" y="1066.20" width="28.80" height="14.50" fill="#56A0FC"/><rect x="530.00" y="1066.20" width="28.80" height="14.50" fill="none" stroke="#000" stroke-width="2.5"/><text x="574.40" y="1080.70" font-size="21.8">MIA</text><rect x="530.00" y="1102.50" width="28.80" height="14.50" fill="#56A0FC"/><path clip-path="url(#c27)" d="M527.00 1120.50L561.80 1085.70M527.00 1132.70L561.80 1097.90M527.00 1144.90L561.80 1110.10" stroke="#000" stroke-width="2.6" fill="none"/><rect x="530.00" y="1102.50" width="28.80" height="14.50" fill="none" stroke="#000" stroke-width="2.5"/><text x="574.40" y="1117.05" font-size="21.8">MIA + CAF</text></svg></body></html>
